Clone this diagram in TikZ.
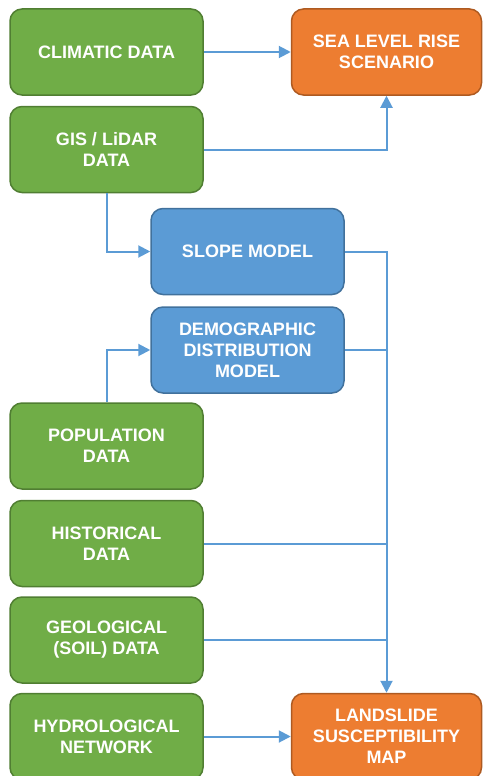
\documentclass[tikz,border=0pt]{standalone}
\usepackage{fontspec}
\setmainfont{Liberation Sans}
\usepackage{tikz}
\usetikzlibrary{
  arrows.meta,
  positioning,
  calc
}
\definecolor{datagreen}{HTML}{70AD47}
\definecolor{databorder}{HTML}{507E32}
\definecolor{modelblue}{HTML}{5B9BD5}
\definecolor{modelborder}{HTML}{41719C}
\definecolor{outorange}{HTML}{ED7D31}
\definecolor{outborder}{HTML}{AE5A21}
\definecolor{linkblue}{HTML}{5B9BD5}
\tikzset{
  databox/.style={
    draw=databorder, fill=datagreen, line width=1.5pt,
    rounded corners=12pt, minimum width=193pt,
    minimum height=86pt, align=center, inner sep=2pt,
    font=\bfseries\fontsize{18}{21}\selectfont\color{white}
  },
  modelbox/.style={
    databox, draw=modelborder, fill=modelblue
  },
  outputbox/.style={
    databox, draw=outborder, fill=outorange,
    minimum width=190pt
  },
  flowarrow/.style={
    -{Triangle[length=12pt,width=12pt]},
    draw=linkblue, line width=2pt
  },
  flowline/.style={
    draw=linkblue, line width=2pt
  },
}

\begin{document}
\begin{tikzpicture}[x=1pt, y=1pt, node distance=11pt and 88pt]

  \path[use as bounding box] (0,0) rectangle (482,-776);

  %% Input data
  \node[databox] (clim) at (106.5,-52) {CLIMATIC DATA};
  \node[databox, below=10pt of clim] (gis) {GIS / LiDAR\\DATA};
  \node[databox] (pop) at (106.5,-446) {POPULATION\\DATA};
  \node[databox, below=10pt of pop] (hist) {HISTORICAL\\DATA};
  \node[databox, below=9pt of hist] (geo) {GEOLOGICAL\\(SOIL) DATA};
  \node[databox, below=9pt of geo] (hydro) {HYDROLOGICAL\\NETWORK};

  %% Models
  \node[modelbox] (slope) at (247.5,-251.5) {SLOPE MODEL};
  \node[modelbox, below=11pt of slope] (demo)
    {DEMOGRAPHIC\\DISTRIBUTION\\MODEL};

  %% Outputs
  \node[outputbox, right=87pt of clim] (sea) {SEA LEVEL RISE\\SCENARIO};
  \node[outputbox, right=87pt of hydro] (land)
    {LANDSLIDE\\SUSCEPTIBILITY\\MAP};

  %% Sea level
  \draw[flowarrow] (clim) -- (sea);
  \draw[flowarrow] (gis.east) -| (sea.south);

  %% Models in
  \draw[flowarrow] (gis.south) |- (slope.west);
  \draw[flowarrow] (pop.north) |- (demo.west);

  %% Landslide
  \draw[flowarrow] (slope.east) -| (land.north);
  \draw[flowline] (demo.east) -- (demo.east -| land.north);
  \draw[flowline] (hist.east) -- (hist.east -| land.north);
  \draw[flowline] (geo.east) -- (geo.east -| land.north);
  \draw[flowarrow] (hydro) -- (land);

\end{tikzpicture}
\end{document}
